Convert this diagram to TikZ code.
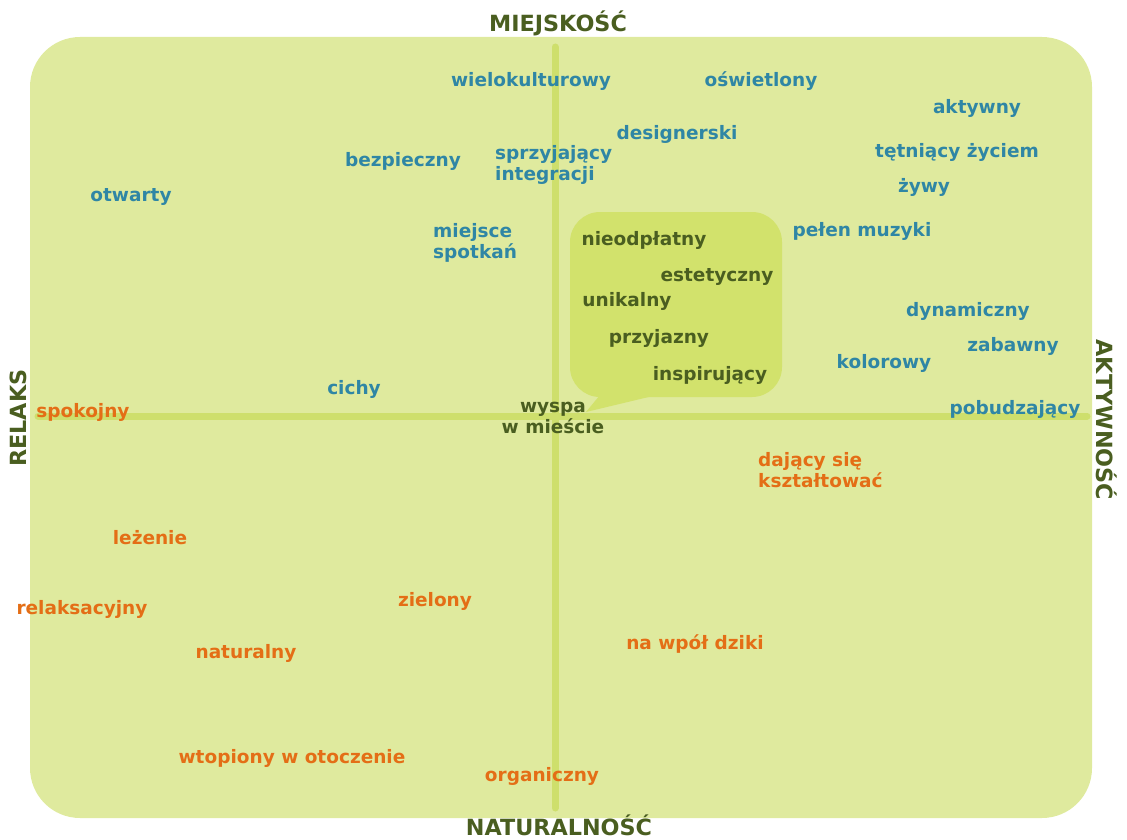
\documentclass[tikz,border=0pt]{standalone}
\usepackage{fontspec}
\setmainfont{DejaVu Sans}
\definecolor{fieldgreen}{HTML}{DFEA9E}
\definecolor{axisgreen}{HTML}{CEDF6C}
\definecolor{bubblegreen}{HTML}{D2E26C}
\definecolor{citycol}{HTML}{2F86A5}
\definecolor{naturecol}{HTML}{E46E16}
\definecolor{headolive}{HTML}{4A5E20}
\begin{document}
\begin{tikzpicture}[x=1pt,y=-1pt,font=\bfseries\fontsize{18.5}{21.5}\selectfont,
	word/.style={inner sep=0pt,text height=0.75em,text depth=0.25em,yshift=-4pt},
	twolines/.style={inner sep=0pt,anchor=west,align=left},
	cityword/.style={text=citycol},
	natureword/.style={text=naturecol},
	islandword/.style={text=headolive},
	axisname/.style={inner sep=0pt,anchor=base,text=headolive,font=\bfseries\fontsize{22.3}{26}\selectfont}]
	\useasboundingbox (0,0) rectangle (1127,840);
	\fill[fieldgreen,rounded corners=50pt] (30,37) rectangle (1092,818);
	\draw[axisgreen,line width=7pt,line cap=round] (555,47)--(555,808) (38,416)--(1087,416);
	% dymek
	\fill[bubblegreen,rounded corners=30pt] (570,212) rectangle (782,397);
	\fill[bubblegreen] (600,395)--(586,412)--(657,395)--cycle;
	% osie
	\node[axisname] (urban) at (558,32) {MIEJSKOŚĆ};
	\node[axisname] (natural) at (559,835) {NATURALNOŚĆ};
	\node[axisname,rotate=90] (relax) at (27,418) {RELAKS};
	\node[axisname,rotate=-90] (active) at (1096,420) {AKTYWNOŚĆ};
	% miasto
	\foreach \nm/\pos/\txt in {multi/{(531,80)}/wielokulturowy, lit/{(761,80)}/oświetlony,
		aktyw/{(977,107)}/aktywny, design/{(677,133)}/designerski, safe/{(403,160)}/bezpieczny,
		vibrant/{(957,151)}/tętniący życiem, alive/{(924,186)}/żywy, open/{(131,195)}/otwarty,
		music/{(862,230)}/pełen muzyki, dyn/{(968,310)}/dynamiczny, fun/{(1013,345)}/zabawny,
		colour/{(884,362)}/kolorowy, quiet/{(354,388)}/cichy, stim/{(1015,408)}/pobudzający}
		\node[word,cityword] (\nm) at \pos {\txt};
	\node[twolines,cityword] (integr) at (495,165) {sprzyjający\\integracji};
	\node[twolines,cityword] (meet) at (433,243) {miejsce\\spotkań};
	% natura
	\foreach \nm/\pos/\txt in {calm/{(83,411)}/spokojny, lying/{(150,538)}/leżenie,
		relaxing/{(82,608)}/relaksacyjny, green/{(435,600)}/zielony, nat/{(246,652)}/naturalny,
		wild/{(695,643)}/na wpół dziki, blend/{(292,757)}/wtopiony w otoczenie,
		organic/{(542,775)}/organiczny}
		\node[word,natureword] (\nm) at \pos {\txt};
	\node[twolines,natureword] (shape) at (758,470) {dający się\\kształtować};
	% wyspa
	\foreach \nm/\pos/\txt in {free/{(644,239)}/nieodpłatny, aesth/{(717,275)}/estetyczny,
		unique/{(627,300)}/unikalny, friendly/{(659,337)}/przyjazny, insp/{(710,374)}/inspirujący}
		\node[word,islandword] (\nm) at \pos {\txt};
	\node[inner sep=0pt,align=center,islandword] (island) at (553,418) {wyspa\\w mieście};
\end{tikzpicture}
\end{document}
